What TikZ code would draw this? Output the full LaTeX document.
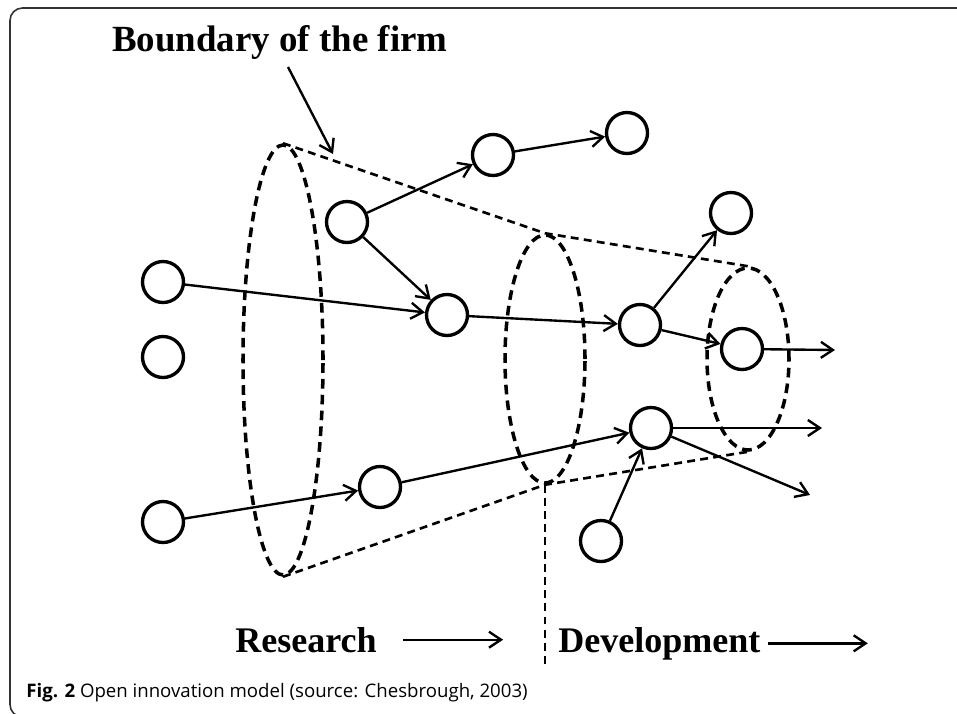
\documentclass[tikz,border=0pt]{standalone}
\usepackage{fontspec}
\setmainfont{Liberation Serif}
\newfontfamily\captionfont{Open Sans}
\usepackage{tikz}
\usetikzlibrary{arrows.meta,shapes.geometric}
\newcommand{\linecolor}{black}
\newcommand{\rimwidth}{2.0pt}
\newcommand{\arrowwidth}{1.35pt}
\newcommand{\bubblesize}{0.82cm}

\begin{document}
\begin{tikzpicture}[
  bubble/.style={draw=\linecolor, line width=1.9pt, circle, minimum size=\bubblesize, inner sep=0pt},
  flow/.style={draw=\linecolor, line width=\arrowwidth, -{Straight Barb[length=2.4mm,width=3.2mm]}},
  rim/.style={draw=\linecolor, ellipse, line width=\rimwidth, dash pattern=on 5.5pt off 3.5pt, inner sep=0pt},
  cone/.style={draw=\linecolor, line width=1.5pt, dash pattern=on 4.5pt off 3pt},
  heading/.style={inner sep=0pt, anchor=base west, font=\bfseries\fontsize{20.5}{24}\selectfont}
]
\useasboundingbox (0,0) rectangle (19.14,-14.26);
\draw[line width=0.9pt, draw=black!80, rounded corners=0.25cm] (0.2,-0.16) rectangle (19.6,-14.34);
%boundaries
\node[rim, minimum width=1.6cm, minimum height=8.6cm] (e1) at (5.66, -7.20) {};
\node[rim, minimum width=1.6cm, minimum height=4.96cm] (e2) at (10.90, -7.18) {};
\node[rim, minimum width=1.64cm, minimum height=3.64cm] (e3) at (14.96, -7.18) {};
\draw[cone] (e1.north) -- (e2.north) -- (e3.north);
\draw[cone] (e1.south) -- (e2.south) -- (e3.south);
\coordinate (cut) at (10.90, -13.36);
\draw[cone] (e2.south) -- (cut);
%circles
\node[bubble] (1) at (3.26, -5.64) {};
\node[bubble] (2) at (3.26, -7.14) {};
\node[bubble] (3) at (3.26, -10.44) {};
\node[bubble] (4) at (6.94, -4.44) {};
\node[bubble] (5) at (8.94, -6.30) {};
\node[bubble] (6) at (7.60, -9.74) {};
\node[bubble] (7) at (9.86, -3.10) {};
\node[bubble] (8) at (12.54, -2.66) {};
\node[bubble] (9) at (12.80, -6.50) {};
\node[bubble] (10) at (14.84, -6.98) {};
\node[bubble] (11) at (13.02, -8.56) {};
\node[bubble] (12) at (12.02, -10.82) {};
\node[bubble] (13) at (14.62, -4.26) {};
%free ends
\coordinate (out10) at (16.70, -7.00);
\coordinate (out11) at (16.44, -8.56);
\coordinate (down11) at (16.20, -9.90);
%flows
\draw[flow] (1) -- (5);
\draw[flow] (3) -- (6);
\draw[flow] (4) -- (7);
\draw[flow] (4) -- (5);
\draw[flow] (7) -- (8);
\draw[flow] (5) -- (9);
\draw[flow] (6) -- (11);
\draw[flow] (9) -- (13);
\draw[flow] (9) -- (10);
\draw[flow] (12) -- (11);
\draw[flow] (10) -- (out10);
\draw[flow] (11) -- (out11);
\draw[flow] (11) -- (down11);
%texts
\node[heading, font=\bfseries\fontsize{21}{25}\selectfont] (title) at (2.24, -1.04) {Boundary of the firm};
\coordinate (p1) at (5.76, -1.34);
\coordinate (p2) at (6.66, -3.08);
\draw[flow] (p1) -- (p2);
\node[heading] (res) at (4.70, -13.04) {Research};
\node[heading] (dev) at (11.16, -13.04) {Development};
\draw[flow] ([xshift=0.52cm]res.east) -- ++(2.0,0);
\draw[flow] ([xshift=0.14cm]dev.east) -- ++(2.0,0);
\node[inner sep=0pt, anchor=base west, font=\captionfont\fontsize{10.6}{12}\selectfont] (cap) at (0.52, -13.94) {\textbf{Fig. 2} Open innovation model (source: Chesbrough, 2003)};
\end{tikzpicture}
\end{document}
